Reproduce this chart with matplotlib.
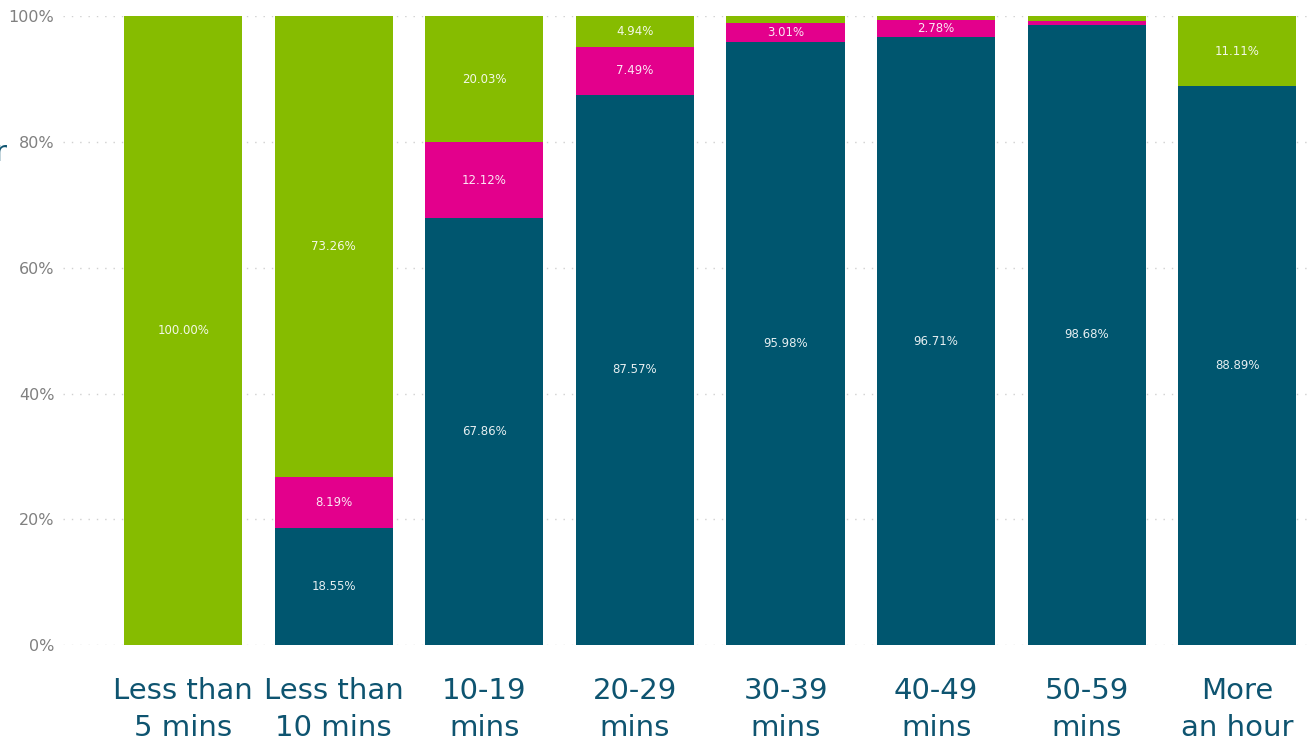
import matplotlib
matplotlib.use("Agg")
import matplotlib.pyplot as plt
import numpy as np

# commute time buckets and the share of each mode within them (percent)
categories = ["Less than\n5 mins", "Less than\n10 mins", "10-19\nmins", "20-29\nmins",
              "30-39\nmins", "40-49\nmins", "50-59\nmins", "More\nan hour"]
teal_vals = [0.00, 18.55, 67.86, 87.57, 95.98, 96.71, 98.68, 88.89]
pink_vals = [0.00, 8.19, 12.12, 7.49, 3.01, 2.78, 0.55, 0.00]
green_vals = [100.00, 73.26, 20.03, 4.94, 1.01, 0.51, 0.77, 11.11]

teal = "#00566F"
pink = "#E3008C"
green = "#86BC00"
label_col = "#0E5470"

fig = plt.figure(figsize=(13.08, 7.44), dpi=100)
ax = fig.add_axes([0.048, 0.133, 0.952, 0.845])

x = np.arange(len(categories))
w = 0.785
bottoms = np.zeros(len(categories))
for vals, col in [(teal_vals, teal), (pink_vals, pink), (green_vals, green)]:
    vals = np.array(vals)
    ax.bar(x, vals, w, bottom=bottoms, color=col, edgecolor="none", zorder=2)
    for xi, b, v in zip(x, bottoms, vals):
        if v >= 2.5:
            ax.text(xi, b + v / 2, f"{v:.2f}%", ha="center", va="center",
                    color="white", fontsize=8.5, alpha=0.9, zorder=3)
    bottoms += vals

ax.set_ylim(0, 100)
ax.set_xlim(-0.8, 7.47)
ax.set_yticks([0, 20, 40, 60, 80, 100])
ax.set_yticklabels(["0%", "20%", "40%", "60%", "80%", "100%"])
ax.yaxis.grid(True, linestyle=(0, (1, 5)), color="#d0d0d0", linewidth=1, zorder=0)
ax.tick_params(axis="y", length=0, labelsize=11.5, labelcolor="#808080", pad=6)
ax.tick_params(axis="x", length=0, pad=23)
ax.set_xticks(x)
ax.set_xticklabels(categories, fontsize=21, color=label_col, linespacing=1.4)
for s in ax.spines.values():
    s.set_visible(False)

# tail of the title that runs off the left edge
fig.text(0.0, 0.795, "r", fontsize=21, color=label_col, ha="center", va="center")

fig.savefig("out.png", dpi=100)
